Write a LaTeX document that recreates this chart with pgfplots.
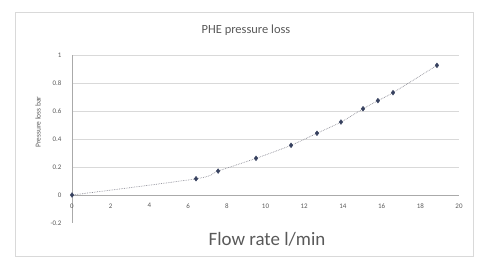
\documentclass[border=0pt]{standalone}
\usepackage{pgfplots}
\pgfplotsset{compat=1.18}
\usepackage{fontspec}
\setmainfont{Carlito}
\definecolor{txtgray}{RGB}{89,89,89}
\definecolor{gridgray}{RGB}{217,217,217}
\definecolor{axgray}{RGB}{170,170,170}
\definecolor{markc}{RGB}{55,65,95}
\definecolor{trend}{RGB}{140,140,150}
\pgfplotstableread{
x y
0 0
6.41 0.116
7.55 0.171
9.51 0.262
11.32 0.355
12.66 0.441
13.90 0.521
15.04 0.616
15.81 0.674
16.59 0.731
18.86 0.926
}\datatab
\begin{document}
\begin{tikzpicture}
\useasboundingbox (0,0) rectangle (485bp,257bp);
\draw[gridgray, line width=0.6bp] (15bp,1bp) rectangle (473bp,245bp);
\begin{axis}[
  at={(72bp,34bp)}, anchor=south west,
  scale only axis, width=387bp, height=168bp,
  xmin=0, xmax=20, ymin=-0.2, ymax=1,
  axis x line=middle, axis y line=left,
  axis line style={-, draw=axgray, line width=0.6bp},
  hide obscured x ticks=false, hide obscured y ticks=false,
  xtick={0,2,...,20}, ytick={0,0.2,0.4,0.6,0.8,1},
  extra y ticks={-0.2}, extra y tick labels={-0.2},
  extra y tick style={ymajorgrids=false},
  major tick length=0pt,
  ymajorgrids, grid style={gridgray, line width=0.5bp},
  tick label style={font=\fontsize{7}{8}\selectfont, text=txtgray},
  /pgf/number format/assume math mode=true,
  xticklabel style={yshift=-5bp},
  yticklabel style={xshift=-7bp},
  clip=false,
]
\addplot[trend, densely dotted, line width=0.7bp, smooth, tension=0.5] table[x=x,y=y] {\datatab};
\addplot[only marks, mark=diamond*, mark size=2.4bp, markc] table[x=x,y=y] {\datatab};
\end{axis}
\node[text=txtgray, font=\fontsize{12.5}{14}\selectfont] at (246bp,227bp) {PHE pressure loss};
\node[text=txtgray, font=\fontsize{19}{22}\selectfont] at (267bp,18bp) {Flow rate l/min};
\node[text=txtgray, font=\fontsize{7.5}{9}\selectfont, rotate=90] at (38bp,135bp) {Pressure loss bar};
\end{tikzpicture}
\end{document}
